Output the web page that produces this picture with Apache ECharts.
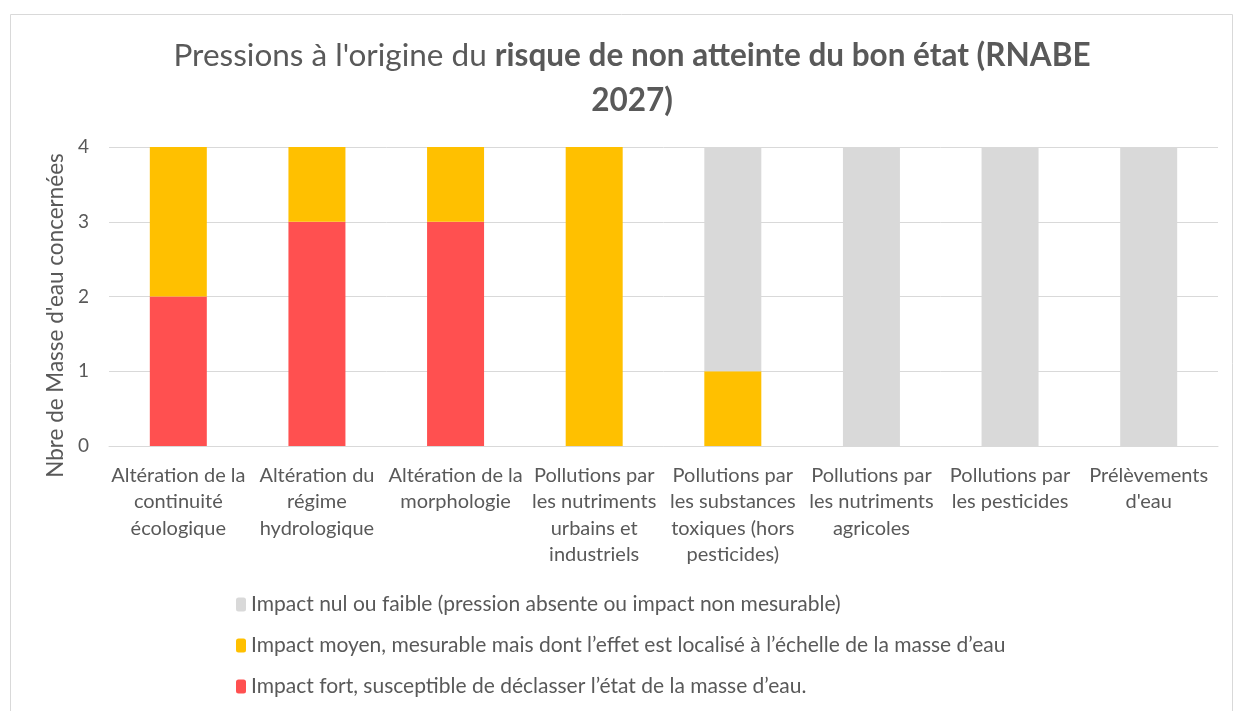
<!DOCTYPE html>
<html>
<head>
<meta charset="utf-8">
<script src="https://cdn.jsdelivr.net/npm/echarts@6/dist/echarts.min.js"></script>
<style>
  html, body { margin: 0; padding: 0; background: #fff; }
  #chart { width: 1234px; height: 711px; }
</style>
</head>
<body>
<div id="chart"></div>
<script>
// ========== 数据 ==========
const categories = [
    'Altération de la\ncontinuité\nécologique',
    'Altération du\nrégime\nhydrologique',
    'Altération de la\nmorphologie',
    'Pollutions par\nles nutriments\nurbains et\nindustriels',
    'Pollutions par\nles substances\ntoxiques (hors\npesticides)',
    'Pollutions par\nles nutriments\nagricoles',
    'Pollutions par\nles pesticides',
    'Prélèvements\nd\'eau'
];
const impactFort = [2, 3, 3, 0, 0, 0, 0, 0];
const impactMoyen = [2, 1, 1, 4, 1, 0, 0, 0];
const impactNul = [0, 0, 0, 0, 3, 4, 4, 4];

const NAME_NUL = 'Impact nul ou faible (pression absente ou impact non mesurable)';
const NAME_MOYEN = 'Impact moyen, mesurable mais dont l’effet est localisé à l’échelle de la masse d’eau';
const NAME_FORT = 'Impact fort, susceptible de déclasser l’état de la masse d’eau.';

const FONT = 'Lato, "Open Sans", sans-serif';
const TXT = '#595959';

const chart = echarts.init(document.getElementById('chart'));

const barSeries = (name, data, color) => ({
    name: name,
    type: 'bar',
    stack: 'total',
    barWidth: 57,
    data: data,
    itemStyle: { color: color },
    emphasis: { disabled: true }
});

chart.setOption({
    animation: false,
    textStyle: { fontFamily: FONT },
    title: {
        left: 627,
        top: 28,
        textAlign: 'center',
        text: '{n|Pressions à l\'origine du }{b|risque de non atteinte du bon état (RNABE}\n{b|2027)}',
        textStyle: {
            rich: {
                n: { fontSize: 31.5, color: TXT, fontFamily: FONT, fontWeight: 'normal', lineHeight: 45 },
                b: { fontSize: 31.5, color: TXT, fontFamily: FONT, fontWeight: 'bold', lineHeight: 45 }
            }
        }
    },
    graphic: [{
        type: 'rect',
        shape: { x: 10.5, y: 14.5, width: 1222, height: 720 },
        style: { fill: null, stroke: '#d9d9d9', lineWidth: 1 },
        silent: true
    }],
    legend: {
        orient: 'vertical',
        left: 231,
        top: 589,
        itemWidth: 10,
        itemHeight: 14,
        itemGap: 20,
        data: [NAME_NUL, NAME_MOYEN, NAME_FORT],
        textStyle: { fontSize: 21, color: TXT, fontFamily: FONT, padding: [0, 0, 0, 0] },
        selectedMode: false
    },
    grid: { left: 109, right: 16, top: 147, bottom: 265 },
    xAxis: {
        type: 'category',
        data: categories,
        axisLine: { lineStyle: { color: '#d9d9d9', width: 1 } },
        axisTick: { show: false },
        axisLabel: {
            interval: 0,
            color: TXT,
            fontSize: 20,
            lineHeight: 26.5,
            margin: 16,
            fontFamily: FONT
        }
    },
    yAxis: {
        type: 'value',
        min: 0,
        max: 4,
        interval: 1,
        name: 'Nbre de Masse d\'eau concernées',
        nameLocation: 'middle',
        nameRotate: 90,
        nameGap: 42,
        nameTextStyle: { fontSize: 22.5, color: TXT, fontFamily: FONT, padding: [0, 38, 0, 0] },
        axisLine: { show: false },
        axisTick: { show: false },
        axisLabel: { color: TXT, fontSize: 19, margin: 20, fontFamily: FONT },
        splitLine: { lineStyle: { color: '#d9d9d9', width: 1 } }
    },
    series: [
        barSeries(NAME_FORT, impactFort, '#ff5050'),
        barSeries(NAME_MOYEN, impactMoyen, '#ffc000'),
        barSeries(NAME_NUL, impactNul, '#d9d9d9')
    ]
});
</script>
</body>
</html>
